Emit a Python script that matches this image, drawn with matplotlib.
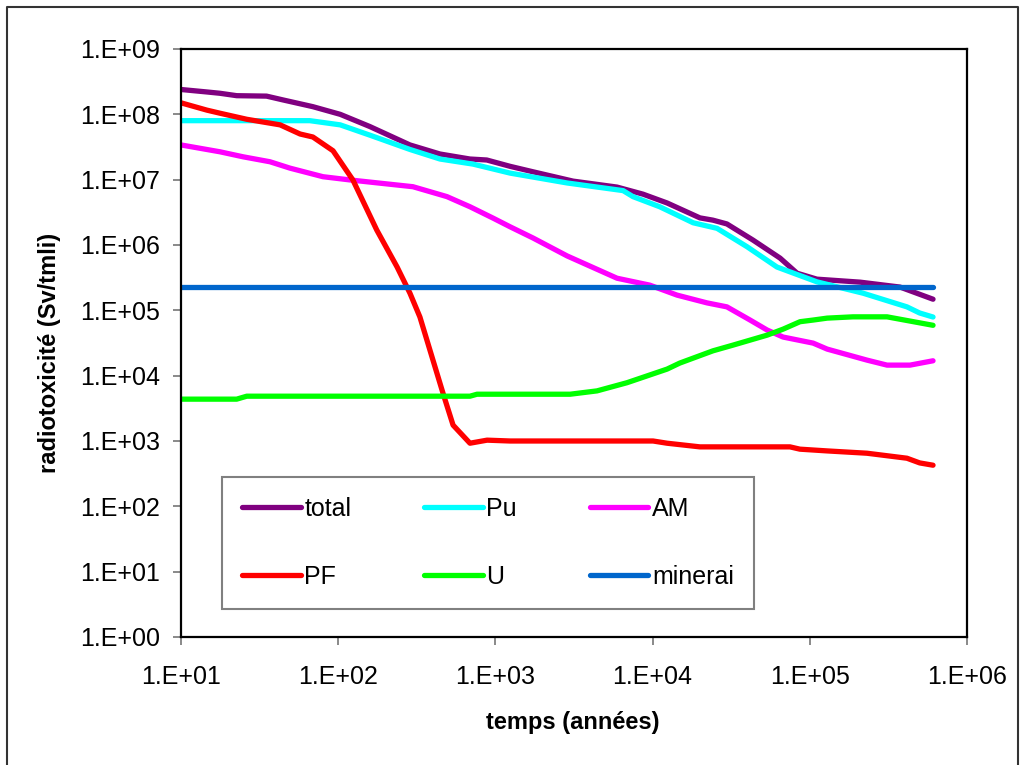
import numpy as np
import matplotlib
matplotlib.use("Agg")
import matplotlib.pyplot as plt
from matplotlib.ticker import FixedLocator, FuncFormatter, NullLocator
from matplotlib.lines import Line2D

plt.rcParams['font.family'] = ['Liberation Sans', 'DejaVu Sans']

# series (years, Sv/tmli)
total_t = [10, 14.6, 17.7, 22.6, 35, 44.6, 69, 103, 159, 286, 444, 689, 881, 1240,
           1735, 3120, 5940, 8690, 12360, 20000, 24200, 29700, 43500, 64700, 83000,
           1.11e5, 2.09e5, 3.75e5, 6.08e5]
total_v = [2.4e8, 2.2e8, 2.1e8, 1.93e8, 1.9e8, 1.66e8, 1.31e8, 1.0e8, 6.5e7, 3.4e7,
           2.47e7, 2.07e7, 2.0e7, 1.6e7, 1.32e7, 9.5e6, 7.7e6, 6.0e6, 4.4e6, 2.6e6,
           2.4e6, 2.1e6, 1.19e6, 6.3e5, 3.7e5, 3.0e5, 2.7e5, 2.27e5, 1.48e5]

pu_t = [10, 66, 103, 159, 286, 444, 721, 1240, 2860, 6490, 7500, 11100, 18100, 25700,
        39900, 61800, 1.11e5, 2.18e5, 4.15e5, 5.0e5, 6.08e5]
pu_v = [8.0e7, 8.0e7, 6.9e7, 4.8e7, 2.9e7, 2.07e7, 1.73e7, 1.26e7, 8.9e6, 6.8e6, 5.5e6,
        3.85e6, 2.19e6, 1.8e6, 9.4e5, 4.6e5, 2.73e5, 1.83e5, 1.13e5, 9.1e4, 7.9e4]

am_t = [10, 17.7, 24.8, 36.8, 49.4, 80, 119, 299, 492, 689, 966, 1240, 1735, 2860, 5940,
        9600, 14300, 22200, 29700, 41700, 53500, 67600, 1.05e5, 1.29e5, 2.31e5, 3.1e5,
        4.34e5, 6.08e5]
am_v = [3.4e7, 2.67e7, 2.24e7, 1.88e7, 1.5e7, 1.11e7, 9.9e6, 7.8e6, 5.5e6, 3.85e6,
        2.58e6, 1.9e6, 1.28e6, 6.8e5, 3.1e5, 2.43e5, 1.71e5, 1.3e5, 1.13e5, 7.1e4, 5.0e4,
        3.9e4, 3.15e4, 2.55e4, 1.73e4, 1.45e4, 1.45e4, 1.69e4]

pf_t = [10, 14.6, 17.7, 26.2, 42.7, 57.2, 69, 92.7, 124, 176, 237, 286, 331, 464, 538,
        689, 885, 1240, 10070, 12360, 20000, 74800, 86500, 1.29e5, 2.31e5, 4.15e5,
        5.0e5, 6.08e5]
pf_v = [1.5e8, 1.16e8, 1.04e8, 8.4e7, 6.9e7, 5.0e7, 4.5e7, 2.77e7, 9.9e6, 1.69e6, 4.6e5,
        1.83e5, 7.9e4, 5.4e3, 1.75e3, 925, 1030, 1000, 1000, 925, 813, 813, 750, 705,
        650, 545, 462, 426]

u_t = [10, 22.6, 26.2, 689, 764, 2990, 4430, 6870, 12360, 14900, 24200, 32400, 53500,
       67600, 86700, 1.05e5, 1.29e5, 1.88e5, 3.1e5, 6.08e5]
u_v = [4.37e3, 4.37e3, 4.85e3, 4.85e3, 5.2e3, 5.2e3, 5.85e3, 7.8e3, 1.26e4, 1.56e4,
       2.4e4, 2.93e4, 4.17e4, 5.15e4, 6.7e4, 7.1e4, 7.6e4, 7.95e4, 7.95e4, 5.9e4]

minerai_t = [10, 6.08e5]
minerai_v = [2.3e5, 2.3e5]

series = [
    ("total", total_t, total_v, "#800080"),
    ("Pu", pu_t, pu_v, "#00FFFF"),
    ("AM", am_t, am_v, "#FF00FF"),
    ("PF", pf_t, pf_v, "#FF0000"),
    ("U", u_t, u_v, "#00FF00"),
    ("minerai", minerai_t, minerai_v, "#0066CC"),
]

W, H = 1022, 765
fig = plt.figure(figsize=(W / 100, H / 100), dpi=100)
ax = fig.add_axes([181 / W, 1 - 637 / H, 786 / W, 588 / H])

lines = {}
for name, t, v, c in series:
    ln, = ax.plot(t, v, color=c, lw=3.8, solid_capstyle='round', solid_joinstyle='round',
                  label=name)
    lines[name] = ln

ax.set_xscale('log')
ax.set_yscale('log')
ax.set_xlim(10, 1e6)
ax.set_ylim(1, 1e9)

fmt = FuncFormatter(lambda v, p: "1.E+%02d" % int(round(np.log10(v))))
ax.xaxis.set_major_locator(FixedLocator([10.0 ** k for k in range(1, 7)]))
ax.yaxis.set_major_locator(FixedLocator([10.0 ** k for k in range(0, 10)]))
ax.xaxis.set_minor_locator(NullLocator())
ax.yaxis.set_minor_locator(NullLocator())
ax.xaxis.set_major_formatter(fmt)
ax.yaxis.set_major_formatter(fmt)
ax.tick_params(axis='both', direction='out', length=5.8, width=1.3, color='#808080',
               labelsize=18, labelcolor='black')
ax.tick_params(axis='y', pad=9.5)
ax.tick_params(axis='x', pad=14)
for s in ax.spines.values():
    s.set_linewidth(1.6)
    s.set_color('black')

# legend: 2 rows x 3 columns, filled column by column
order = ["total", "PF", "Pu", "U", "AM", "minerai"]
leg = ax.legend([lines[n] for n in order], order, ncol=3, loc='upper left',
                bbox_to_anchor=((222 - 181) / 786, (637 - 477) / 588),
                fontsize=18, frameon=True, fancybox=False, framealpha=1,
                edgecolor='#808080', handlelength=2.35, handletextpad=0.15,
                columnspacing=2.9, labelspacing=1.75, borderpad=0.8,
                borderaxespad=0)
leg.get_frame().set_linewidth(1.5)

fig.text(573 / W, 1 - 723 / H, "temps (années)", ha='center', va='center',
         fontsize=17, fontweight='bold')
fig.text(50 / W, 1 - 353 / H, "radiotoxicité (Sv/tmli)", ha='center', va='center',
         rotation=90, fontsize=17, fontweight='bold')

# outer chart border (bottom edge lies outside the picture)
fig.add_artist(Line2D([7 / W, 7 / W, 1018 / W, 1018 / W], [-0.01, 1 - 7 / H, 1 - 7 / H, -0.01],
                      transform=fig.transFigure, color='#333333', lw=1.5))

fig.savefig("out.png", dpi=100)
